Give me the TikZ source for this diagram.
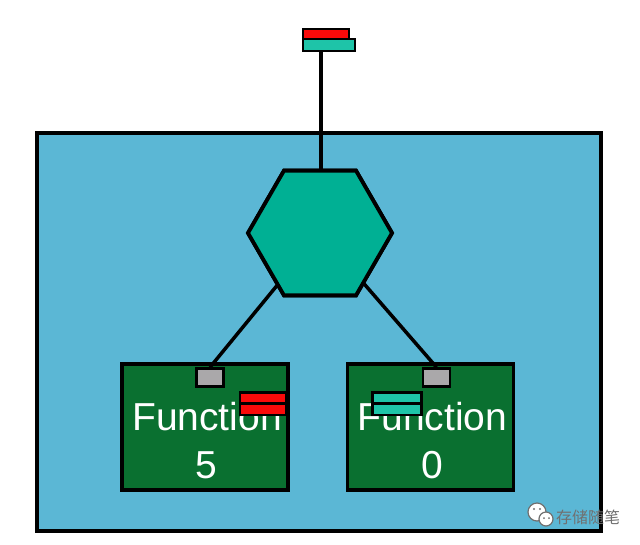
\documentclass[tikz,border=0pt]{standalone}
\usepackage{fontspec}
\setmainfont{Liberation Sans}
\newfontfamily\cjk{Noto Sans CJK SC}
\usetikzlibrary{shapes.geometric}
\definecolor{bgblue}{RGB}{91,183,213}
\definecolor{hexteal}{RGB}{0,176,148}
\definecolor{fgreen}{RGB}{10,112,48}
\definecolor{barteal}{RGB}{30,196,168}
\definecolor{barred}{RGB}{250,10,10}
\definecolor{portgray}{RGB}{170,168,170}
\definecolor{wmgray}{RGB}{112,112,112}
\begin{document}
\begin{tikzpicture}[x=1pt,y=-1pt,
  outline/.style={draw=black,line width=3.8pt},
  funcbox/.style={outline,fill=fgreen,minimum width=166pt,minimum height=126pt,inner sep=0pt},
  port/.style={draw=black,line width=2.5pt,fill=portgray,minimum width=27pt,minimum height=18pt,inner sep=0pt},
  bar/.style={draw=black,line width=2.5pt,inner sep=0pt},
  conn/.style={draw=black,line width=3.5pt},
  hexstyle/.style={regular polygon,regular polygon sides=6,minimum size=144pt,inner sep=0pt,outer sep=0pt,fill=hexteal,draw=black,line width=3.8pt},
  ftext/.style={text=white,font=\fontsize{39}{39}\selectfont,inner sep=0pt,anchor=base}
]
\useasboundingbox (0,0) rectangle (640,544);
\fill[white] (0,0) rectangle (640,544);
% container
\node[outline,fill=bgblue,minimum width=564pt,minimum height=398pt,inner sep=0pt] (cont) at (319,332) {};
% top flags
\node[bar,fill=barred,minimum width=46pt,minimum height=10pt] (tred) at (326,34) {};
\node[bar,fill=barteal,minimum width=52pt,minimum height=12pt] (tteal) at (329,45) {};
\coordinate (tin) at (321,51);
% function boxes
\node[funcbox] (f5) at (205,427) {};
\node[funcbox] (f0) at (430.5,427) {};
\node[port] (p5) at (210,377.5) {};
\node[port] (p0) at (436.5,377.5) {};
% hexagon
\node[hexstyle] (hex) at (320,233) {};
% connectors
\draw[conn] (tin) -- (hex.north -| tin);
\draw[conn] (hex) -- (p5.north);
\draw[conn] (hex) -- (p0.north);
\node[hexstyle] at (320,233) {};
\node[port] at (210,377.5) {};
\node[port] at (436.5,377.5) {};
% texts
\node[ftext] (t5a) at (207,430) {Function};
\node[ftext] (t5b) at (206,478) {5};
\node[ftext] (t0a) at (432.5,430) {Function};
\node[ftext] (t0b) at (432.5,478) {0};
% bars inside function boxes
\node[bar,fill=barred,minimum width=46pt,minimum height=11.5pt] (r1) at (263,398) {};
\node[bar,fill=barred,minimum width=46pt,minimum height=11.5pt] (r2) at (263,409) {};
\node[bar,fill=barteal,minimum width=49pt,minimum height=11.5pt] (c1) at (397,398) {};
\node[bar,fill=barteal,minimum width=49pt,minimum height=11.5pt] (c2) at (397,409) {};
% watermark
\draw[wmgray,fill=white,line width=1.2pt] (537,512) circle (9);
\draw[wmgray,fill=white,line width=1.2pt] (546,519) circle (7);
\fill[wmgray] (534,509) circle (1.2) (540,509) circle (1.2) (544,518) circle (1) (549,518) circle (1);
\node[text=wmgray,font=\cjk\fontsize{16}{16}\selectfont,inner sep=0pt] (wm) at (588,517) {存储随笔};
\end{tikzpicture}
\end{document}
